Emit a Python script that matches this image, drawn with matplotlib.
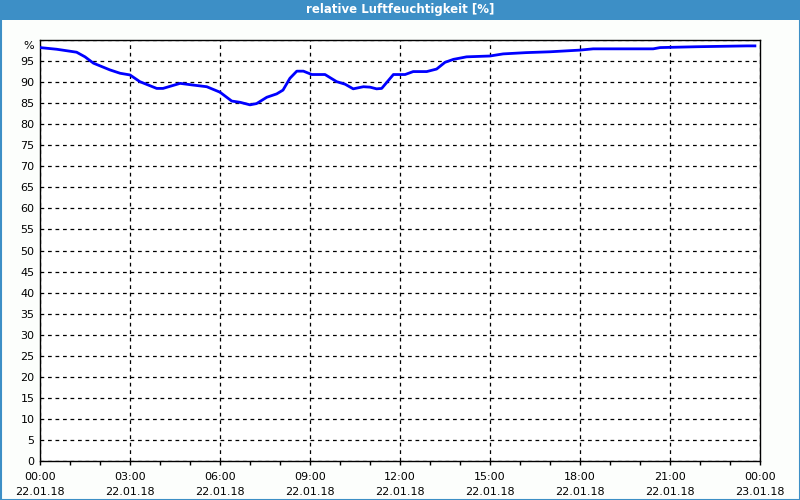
import matplotlib.pyplot as plt
import matplotlib.transforms as mtransforms
from matplotlib.patches import Rectangle
from matplotlib.ticker import MultipleLocator

# Stunden ab 22.01.18 00:00
hours = [0.0, 0.56, 1.22, 1.5, 1.78, 2.33, 2.67, 3.0, 3.33, 3.89, 4.1, 4.67, 5.1, 5.56,
         6.0, 6.39, 6.67, 7.0, 7.22, 7.56, 7.89, 8.1, 8.33, 8.56, 8.78, 9.06, 9.5,
         9.89, 10.17, 10.44, 10.78, 11.0, 11.22, 11.39, 11.78, 12.17, 12.44, 12.89,
         13.22, 13.5, 13.78, 14.22, 15.0, 15.44, 16.2, 17.0, 18.0, 18.44, 20.44,
         20.67, 21.89, 23.56, 23.83]
humidity = [98.2, 97.8, 97.1, 96.0, 94.5, 92.9, 92.1, 91.7, 90.1, 88.5, 88.5, 89.7, 89.3, 88.9,
            87.6, 85.5, 85.2, 84.6, 84.9, 86.4, 87.2, 88.1, 90.9, 92.6, 92.6, 91.8, 91.8,
            90.1, 89.5, 88.4, 88.9, 88.8, 88.4, 88.5, 91.8, 91.8, 92.5, 92.5,
            93.1, 94.7, 95.4, 96.0, 96.2, 96.7, 97.0, 97.2, 97.6, 97.9, 97.9,
            98.2, 98.4, 98.6, 98.6]

xticks = [0, 3, 6, 9, 12, 15, 18, 21, 24]
xlabels = ['00:00\n22.01.18', '03:00\n22.01.18', '06:00\n22.01.18', '09:00\n22.01.18',
           '12:00\n22.01.18', '15:00\n22.01.18', '18:00\n22.01.18', '21:00\n22.01.18',
           '00:00\n23.01.18']
yticks = list(range(0, 101, 5))
ylabels = [str(v) for v in yticks[:-1]] + ['%']

title = 'relative Luftfeuchtigkeit [%]'
bar_color = '#3d8fc6'

plt.rcParams['font.family'] = ['DejaVu Sans']

fig = plt.figure(figsize=(8, 5), dpi=100, facecolor='#fcfefc')

# Titelleiste und Rahmen
fig.patches.append(Rectangle((0, 480 / 500), 1, 20 / 500, transform=fig.transFigure,
                             facecolor=bar_color, edgecolor='none', zorder=0))
fig.patches.append(Rectangle((0.5 / 800, 0.5 / 500), 799 / 800, 499 / 500, transform=fig.transFigure,
                             facecolor='none', edgecolor=bar_color, linewidth=1.5, zorder=0))
fig.text(0.5, 490 / 500, title, color='white', fontsize=8.5, fontweight='bold',
         ha='center', va='center')

ax = fig.add_axes([40 / 800, 39 / 500, 720 / 800, 421 / 500])
ax.set_facecolor('white')
ax.plot(hours, humidity, color='#0000ff', linewidth=2, zorder=3)

ax.set_xlim(0, 24)
ax.set_ylim(0, 100)
ax.set_xticks(xticks)
ax.set_xticklabels(xlabels, fontsize=8, linespacing=1.6)
ax.xaxis.set_minor_locator(MultipleLocator(1))
ax.set_yticks(yticks)
ax.set_yticklabels(ylabels, fontsize=8)

ax.tick_params(axis='x', which='both', direction='out', length=3, width=1, pad=5)
ax.tick_params(axis='y', length=0, pad=4)

# "%" sitzt etwas unterhalb der oberen Achse
pct = ax.get_yticklabels()[-1]
pct.set_transform(pct.get_transform() + mtransforms.ScaledTranslation(0, -5 / 100, fig.dpi_scale_trans))

ax.grid(True, which='major', color='black', linestyle=(0, (3, 3)), linewidth=0.9)
for s in ax.spines.values():
    s.set_color('black')
    s.set_linewidth(1)

fig.savefig('out.png', dpi=100, facecolor=fig.get_facecolor())
